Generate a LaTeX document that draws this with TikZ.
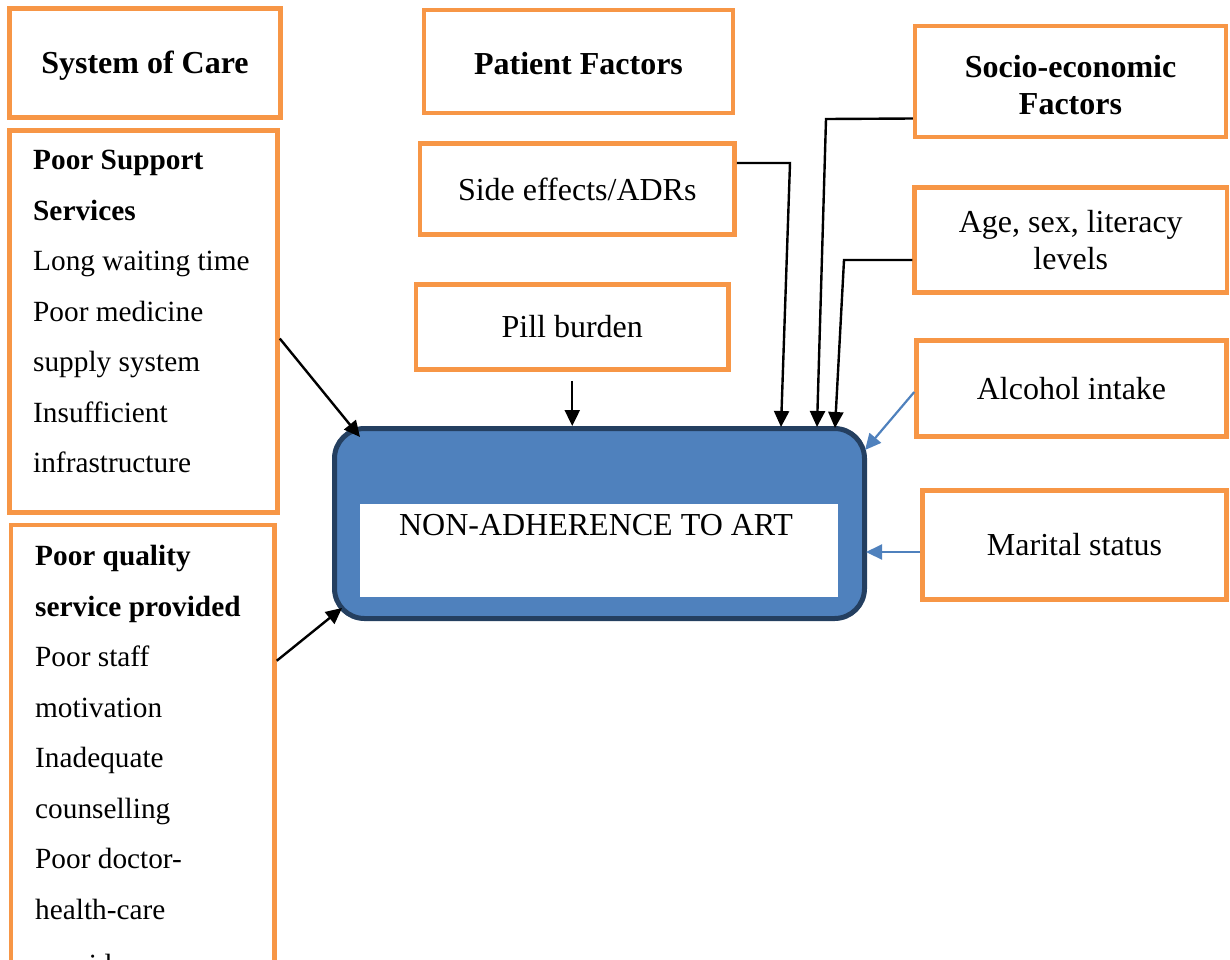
\documentclass[tikz,border=0pt]{standalone}
\usepackage{fontspec}
\setmainfont{Liberation Serif}
\usetikzlibrary{arrows.meta,calc}
\definecolor{orng}{HTML}{F79646}
\definecolor{cblue}{HTML}{4F81BD}
\definecolor{cdark}{HTML}{243F60}
\begin{document}
\begin{tikzpicture}[x=1pt,y=-1pt,
  obox/.style={draw=orng,line width=4.5pt,inner sep=0pt,align=center,
    font=\fontsize{32}{37}\selectfont},
  ctext/.style={inner sep=0pt,align=center,font=\fontsize{32}{37}\selectfont},
  ltext/.style={anchor=north west,inner sep=0pt,align=left,
    font=\fontsize{29.3}{50.5}\selectfont},
  blk/.style={draw=black,line width=2.4pt,-{Triangle[length=16pt,width=15pt]}},
  blu/.style={draw=cblue,line width=2.2pt,-{Triangle[length=16pt,width=15pt]}}]
\useasboundingbox (0,0) rectangle (1230,959);
% boxes
\node[obox,minimum width=271pt,minimum height=109pt] (soc) at (145,63) {\raisebox{-10pt}[0pt][0pt]{\bfseries System of Care}};
\node[obox,minimum width=309pt,minimum height=103pt] (pf) at (578.5,61.5) {\raisebox{-13pt}[0pt][0pt]{\bfseries Patient Factors}};
\node[obox,minimum width=311pt,minimum height=111pt] (sef) at (1070.5,81.5) {};
\node[ctext] (seft) at (1070.5,85.5) {\bfseries Socio-economic\\\bfseries Factors};
\node[obox,minimum width=314.5pt,minimum height=91pt] (se) at (577.25,189) {Side effects/ADRs};
\node[obox,minimum width=312.5pt,minimum height=85pt] (pill) at (572.25,327) {Pill burden};
\node[obox,minimum width=312.5pt,minimum height=105pt] (age) at (1070.75,240) {Age, sex, literacy\\levels};
\node[obox,minimum width=310pt,minimum height=96pt] (alc) at (1071.5,388.5) {Alcohol intake};
\node[obox,minimum width=304pt,minimum height=109pt] (mar) at (1074.5,545) {Marital status};
\node[obox,minimum width=268pt,minimum height=382pt] (pss) at (143.5,321.5) {};
\node[obox,minimum width=263.5pt,minimum height=485pt] (pq) at (142.75,767.5) {};
\node[ltext] (psst) at (33,150) {\textbf{Poor Support}\\\textbf{Services}\\Long waiting time\\Poor medicine\\supply system\\Insufficient\\infrastructure};
\node[ltext] (pqt) at (35,545) {\textbf{Poor quality}\\\textbf{service provided}\\Poor staff\\motivation\\Inadequate\\counselling\\Poor doctor-\\health-care\\[5pt]providers};
% core
\node[draw=cdark,fill=cblue,line width=5pt,rounded corners=30pt,minimum width=530pt,minimum height=190pt] (core) at (599.5,523.5) {};
\node[fill=white,inner sep=0pt,minimum width=478pt,minimum height=93pt] (inner) at (599,550.5) {};
\node[anchor=base,inner sep=0pt,font=\fontsize{32}{37}\selectfont] (lab) at (596,535) {NON-ADHERENCE TO ART};
% target points
\coordinate (t1) at (781,427);
\coordinate (t2) at (817,427);
\coordinate (t3) at (835,428);
\coordinate (t4) at (865,450);
\coordinate (t5) at (866,552);
\coordinate (t6) at (360,437);
\coordinate (t7) at (342,608);
% connectors
\draw[blk] ([yshift=-17pt]pss.east) -- (t6);
\draw[blk] ([yshift=-138pt]pq.north east) -- (t7);
\draw[blk] ([yshift=-9pt]pill.south) -- (pill.south |- core.north);
\draw[blk] ([yshift=26pt]se.east) -- (790,163) -- (t1);
\draw[blk] ([yshift=-37pt]sef.west) -- (826,119) -- (t2);
\draw[blk] ([yshift=-20pt]age.west) -- (844,260) -- (t3);
\draw[blu] ([yshift=-3.5pt]alc.west) -- (t4);
\draw[blu] ([yshift=-7pt]mar.west) -- (t5);
\end{tikzpicture}
\end{document}
